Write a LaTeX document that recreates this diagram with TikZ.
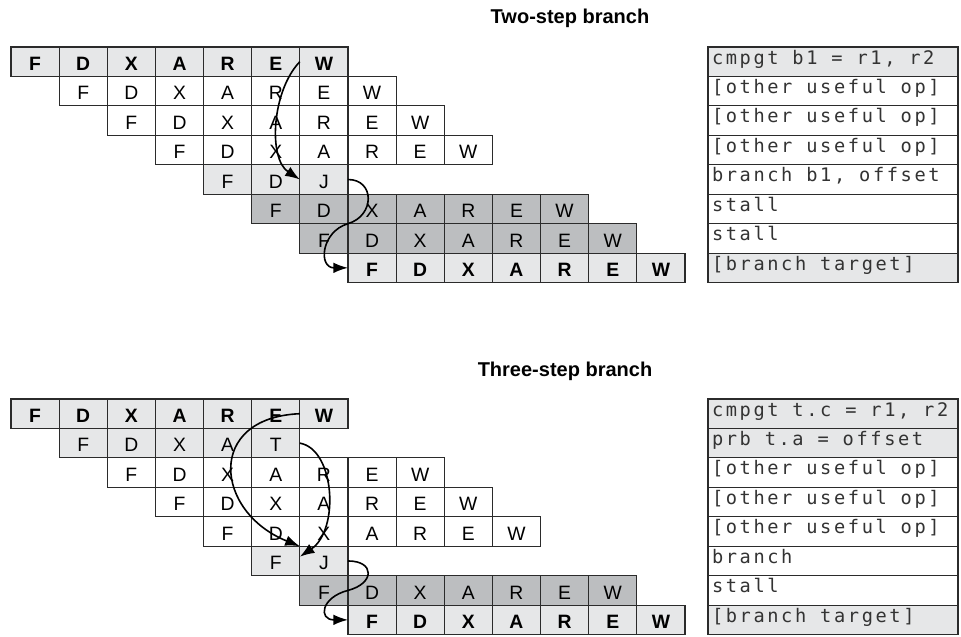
\documentclass[tikz,border=0pt]{standalone}
\usepackage{fontspec}
\setmainfont{Liberation Sans}
\newfontfamily\codefont[LetterSpace=14]{DejaVu Sans Mono}
\usetikzlibrary{arrows.meta}
\definecolor{lightcell}{HTML}{E6E7E8}
\definecolor{darkcell}{HTML}{BCBEC0}
\definecolor{rule}{HTML}{2B2B2B}
\tikzset{
  cell/.style={draw=rule, line width=0.9pt, minimum width=36.1pt, minimum height=22.09pt,
    inner sep=0pt, outer sep=0pt, text height=13pt, text depth=0pt,
    font=\fontsize{14.5}{17}\selectfont},
  plain/.style={fill=white},
  light/.style={fill=lightcell},
  dark/.style={fill=darkcell},
  heavy/.style={fill=lightcell, font=\fontsize{14.5}{17}\selectfont\bfseries},
  opbox/.style={draw=rule, line width=0.9pt, anchor=west, text width=181.5pt,
    minimum height=22.09pt, inner xsep=3pt, inner ysep=0pt, outer sep=0pt, align=left,
    text height=8.5pt, text depth=5pt,
    font=\codefont\fontsize{14}{16}\selectfont, text=black!80},
  title/.style={font=\fontsize{15}{18}\selectfont\bfseries},
  flow/.style={line width=1.2pt, -{Latex[length=11pt,width=8pt]}}
}
\newcommand{\stagerow}[4]{%
  \foreach \l [count=\c] in {#4} {
    \node[cell,#3] (#1-#2-\c) at ({35.07+48.14*(#2+\c-1)}, {61.7+29.45*#2}) {\l};
  }}
\newcommand{\oprow}[4]{%
  \node[opbox,#3] (#1-op-#2) at (708, {61.7+29.45*#2}) {\spaceskip=10.4pt\relax #4};}
\begin{document}
\begin{tikzpicture}[x=0.75pt, y=-0.75pt]
\useasboundingbox (0,0) rectangle (961,636);
\node[title] (twotitle) at (570,18) {Two-step branch};
\stagerow{a}{0}{heavy}{F,D,X,A,R,E,W}
\stagerow{a}{1}{plain}{F,D,X,A,R,E,W}
\stagerow{a}{2}{plain}{F,D,X,A,R,E,W}
\stagerow{a}{3}{plain}{F,D,X,A,R,E,W}
\stagerow{a}{4}{light}{F,D,J}
\stagerow{a}{5}{dark}{F,D,X,A,R,E,W}
\stagerow{a}{6}{dark}{F,D,X,A,R,E,W}
\stagerow{a}{7}{heavy}{F,D,X,A,R,E,W}
\oprow{a}{0}{light}{cmpgt b1 = r1, r2}
\oprow{a}{1}{plain}{[other useful op]}
\oprow{a}{2}{plain}{[other useful op]}
\oprow{a}{3}{plain}{[other useful op]}
\oprow{a}{4}{plain}{branch b1, offset}
\oprow{a}{5}{plain}{stall}
\oprow{a}{6}{plain}{stall}
\oprow{a}{7}{light}{[branch target]}
\draw[flow] (a-0-6.east) .. controls +(-28,29) and +(-32,-21) .. (a-4-2.east);
\draw[flow] (a-4-3.east) .. controls +(27,0) and +(27,-8) .. (a-5-3.south west)
  .. controls +(-27,8) and +(-30,0) .. (a-7-1.west);
\begin{scope}[shift={(0,352)}]
\node[title] (threetitle) at (565,19) {Three-step branch};
\stagerow{b}{0}{heavy}{F,D,X,A,R,E,W}
\stagerow{b}{1}{light}{F,D,X,A,T}
\stagerow{b}{2}{plain}{F,D,X,A,R,E,W}
\stagerow{b}{3}{plain}{F,D,X,A,R,E,W}
\stagerow{b}{4}{plain}{F,D,X,A,R,E,W}
\stagerow{b}{5}{light}{F,J}
\stagerow{b}{6}{dark}{F,D,X,A,R,E,W}
\stagerow{b}{7}{heavy}{F,D,X,A,R,E,W}
\oprow{b}{0}{light}{cmpgt t.c = r1, r2}
\oprow{b}{1}{light}{prb t.a = offset}
\oprow{b}{2}{plain}{[other useful op]}
\oprow{b}{3}{plain}{[other useful op]}
\oprow{b}{4}{plain}{[other useful op]}
\oprow{b}{5}{plain}{branch}
\oprow{b}{6}{plain}{stall}
\oprow{b}{7}{light}{[branch target]}
\draw[flow] (b-0-6.east) .. controls +(-95,4) and +(-85,-34) .. (b-5-1.north east);
\draw[flow] (b-1-5.east) .. controls +(35,6) and +(40,-27) .. (b-5-2.170);
\draw[flow] (b-5-2.east) .. controls +(27,0) and +(27,-7) .. (b-6-1.east)
  .. controls +(-27,7) and +(-30,0) .. (b-7-1.west);
\end{scope}
\end{tikzpicture}
\end{document}
